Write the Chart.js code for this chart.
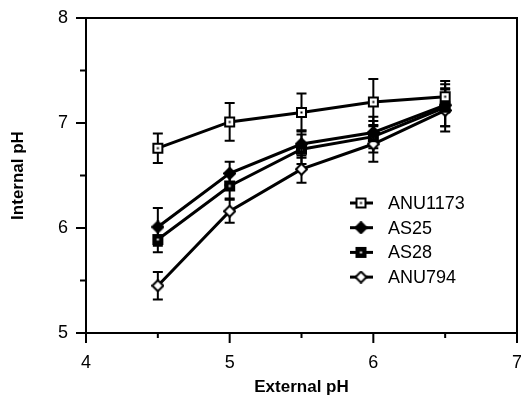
<!DOCTYPE html>
<html lang="en">
<head>
<meta charset="UTF-8">
<title>Internal vs External pH</title>
<script src="https://cdn.jsdelivr.net/npm/chart.js"></script>
<style>
  html, body { margin: 0; padding: 0; background: #fff; }
  #wrap { width: 521px; height: 396px; position: relative; }
</style>
</head>
<body>
<div id="wrap"><canvas id="phChart" width="521" height="396"></canvas></div>
<script>
// data
const externalPH = [4.5, 5, 5.5, 6, 6.5];
const strains = ['ANU1173', 'AS25', 'AS28', 'ANU794'];
const anu1173 = [6.76, 7.01, 7.10, 7.20, 7.25];
const anu1173Err = [0.14, 0.18, 0.18, 0.22, 0.15];
const as25 = [6.01, 6.52, 6.80, 6.91, 7.17];
const as25Err = [0.18, 0.11, 0.13, 0.15, 0.20];
const as28 = [5.89, 6.40, 6.75, 6.87, 7.15];
const as28Err = [0.12, 0.12, 0.14, 0.15, 0.18];
const anu794 = [5.45, 6.16, 6.56, 6.80, 7.12];
const anu794Err = [0.13, 0.11, 0.13, 0.17, 0.20];

const FONT = "'Liberation Sans', Arial, Helvetica, sans-serif";

// little marker images
function makeMarker(kind) {
    const c = document.createElement('canvas');
    c.width = 13; c.height = 13;
    const g = c.getContext('2d');
    g.lineWidth = 2;
    g.strokeStyle = '#000';
    if (kind === 'sqOpen' || kind === 'sqFill') {
        g.fillStyle = kind === 'sqFill' ? '#000' : '#fff';
        g.fillRect(2, 2, 9, 9);
        g.strokeRect(2, 2, 9, 9);
        g.fillStyle = kind === 'sqFill' ? '#fff' : '#000';
        g.fillRect(5.5, 5.5, 2, 2);
    } else {
        g.beginPath();
        g.moveTo(6.5, 1); g.lineTo(12, 6.5); g.lineTo(6.5, 12); g.lineTo(1, 6.5); g.closePath();
        g.fillStyle = kind === 'diaFill' ? '#000' : '#fff';
        g.fill();
        g.stroke();
    }
    return c;
}
const markers = [makeMarker('sqOpen'), makeMarker('diaFill'), makeMarker('sqFill'), makeMarker('diaOpen')];
const series = [anu1173, as25, as28, anu794];
const errors = [anu1173Err, as25Err, as28Err, anu794Err];

const datasets = strains.map((name, i) => ({
    label: name,
    data: externalPH.map((x, j) => ({ x: x, y: series[i][j] })),
    borderColor: '#000',
    borderWidth: 3,
    pointStyle: markers[i],
    pointRadius: 6,
    fill: false,
    tension: 0
}));

// error bars with caps
const errorBars = {
    id: 'errorBars',
    beforeDatasetsDraw(chart) {
        const { ctx, scales: { x, y } } = chart;
        ctx.save();
        ctx.strokeStyle = '#000';
        ctx.lineWidth = 2;
        errors.forEach((err, i) => {
            externalPH.forEach((xv, j) => {
                const px = x.getPixelForValue(xv);
                const top = y.getPixelForValue(series[i][j] + err[j]);
                const bot = y.getPixelForValue(series[i][j] - err[j]);
                ctx.beginPath();
                ctx.moveTo(px, top); ctx.lineTo(px, bot);
                ctx.moveTo(px - 5, top); ctx.lineTo(px + 5, top);
                ctx.moveTo(px - 5, bot); ctx.lineTo(px + 5, bot);
                ctx.stroke();
            });
        });
        ctx.restore();
    }
};

// frame + outward ticks (short ones at the halves)
const frameTicks = {
    id: 'frameTicks',
    afterDraw(chart) {
        const { ctx, chartArea: a, scales: { x, y } } = chart;
        ctx.save();
        ctx.strokeStyle = '#000';
        ctx.lineWidth = 2;
        ctx.strokeRect(a.left, a.top, a.right - a.left, a.bottom - a.top);
        ctx.beginPath();
        x.ticks.forEach(t => {
            const px = x.getPixelForValue(t.value);
            const len = Number.isInteger(t.value) ? 10 : 5;
            ctx.moveTo(px, a.bottom); ctx.lineTo(px, a.bottom + len);
        });
        y.ticks.forEach(t => {
            const py = y.getPixelForValue(t.value);
            const len = Number.isInteger(t.value) ? 10 : 6;
            ctx.moveTo(a.left, py); ctx.lineTo(a.left - len, py);
        });
        ctx.stroke();

        // legend inside the plot
        ctx.font = '18px ' + FONT;
        ctx.fillStyle = '#000';
        ctx.textBaseline = 'middle';
        ctx.lineWidth = 3;
        strains.forEach((name, i) => {
            const ly = 203 + i * 24.7;
            ctx.beginPath();
            ctx.moveTo(350, ly); ctx.lineTo(373, ly);
            ctx.stroke();
            ctx.drawImage(markers[i], 361 - 6.5, ly - 6.5);
            ctx.fillText(name, 388, ly + 1);
        });
        ctx.restore();
    }
};

new Chart(document.getElementById('phChart'), {
    type: 'line',
    data: { datasets: datasets },
    options: {
        responsive: false,
        animation: false,
        layout: { autoPadding: false, padding: { top: 18, right: 4, left: 0, bottom: 0 } },
        plugins: { legend: { display: false }, tooltip: { enabled: false } },
        scales: {
            x: {
                type: 'linear',
                min: 4, max: 7,
                grid: { display: false, drawTicks: false },
                border: { display: false },
                afterFit(s) { s.height = 63; s.paddingLeft = 0; s.paddingRight = 0; },
                ticks: {
                    stepSize: 0.5,
                    padding: 19,
                    color: '#000',
                    font: { family: FONT, size: 18 },
                    maxRotation: 0,
                    callback: v => Number.isInteger(v) ? v : ''
                },
                title: {
                    display: true,
                    text: 'External pH',
                    color: '#000',
                    font: { family: FONT, size: 17, weight: 'bold', lineHeight: 1 },
                    padding: { top: 0, bottom: 0 }
                }
            },
            y: {
                min: 5, max: 8,
                grid: { display: false, drawTicks: false },
                border: { display: false },
                afterFit(s) { s.width = 86; s.paddingTop = 0; s.paddingBottom = 0; },
                ticks: {
                    stepSize: 0.5,
                    padding: 18,
                    color: '#000',
                    font: { family: FONT, size: 18 },
                    callback: v => Number.isInteger(v) ? v : ''
                },
                title: {
                    display: true,
                    text: 'Internal pH',
                    color: '#000',
                    font: { family: FONT, size: 17, weight: 'bold', lineHeight: 1 },
                    padding: { top: 10, bottom: 0 }
                }
            }
        }
    },
    plugins: [errorBars, frameTicks]
});
</script>
</body>
</html>
